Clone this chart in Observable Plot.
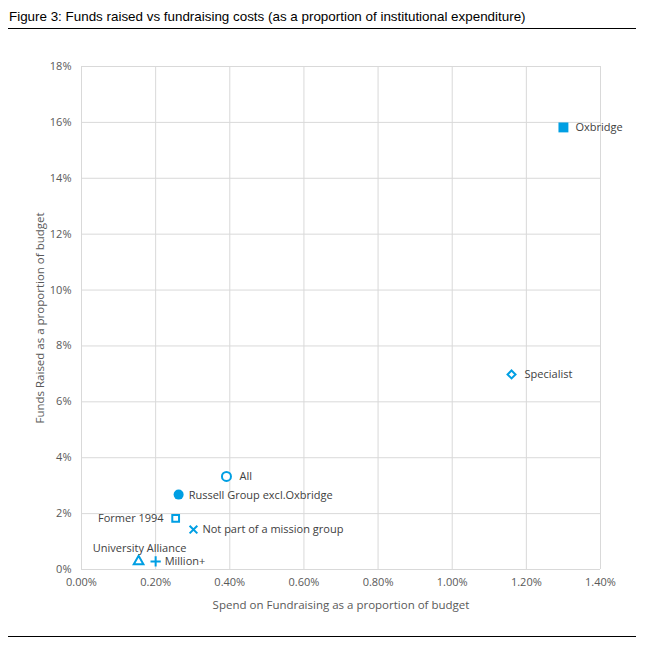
<!DOCTYPE html>
<html>
<head>
<meta charset="utf-8">
<script src="https://cdn.jsdelivr.net/npm/d3@7"></script>
<script src="https://cdn.jsdelivr.net/npm/@observablehq/plot@0.6"></script>
<style>
  html, body { margin: 0; padding: 0; background: #fff; }
  #wrap { position: relative; width: 646px; height: 651px; overflow: hidden; }
  #title { position: absolute; left: 9px; top: 9px; font-family: "Liberation Sans", Arial, sans-serif; font-size: 13.4px; color: #000; white-space: nowrap; }
  .rule { position: absolute; left: 8px; width: 628px; height: 0; border-top: 1px solid #000; }
  #chart { position: absolute; left: 0; top: 0; }
</style>
</head>
<body>
<div id="wrap">
  <div id="chart"></div>
  <div id="title">Figure 3: Funds raised vs fundraising costs (as a proportion of institutional expenditure)</div>
  <div class="rule" style="top:28px"></div>
  <div class="rule" style="top:636px"></div>
</div>
<script>
const groups = ["Oxbridge", "Specialist", "All", "Russell Group excl.Oxbridge", "Former 1994", "Not part of a mission group", "University Alliance", "Million+"];
const spend = [1.30, 1.16, 0.391, 0.262, 0.254, 0.302, 0.154, 0.200];   // % of budget
const raised = [15.82, 6.98, 3.33, 2.68, 1.83, 1.43, 0.29, 0.29];       // % of budget
const symbols = ["square", "diamond2", "circle", "circle", "square2", "times", "triangle2", "plus"];
const filled = [true, false, false, true, false, false, false, false];
const xTicks = [0, 0.2, 0.4, 0.6, 0.8, 1.0, 1.2, 1.4];
const yTicks = [0, 2, 4, 6, 8, 10, 12, 14, 16, 18];

// label placement (styling only)
const labelPos = [
  {dx: 12, dy: 0, anchor: "start"},
  {dx: 13, dy: 0, anchor: "start"},
  {dx: 13, dy: 0, anchor: "start"},
  {dx: 10, dy: 1, anchor: "start"},
  {dx: -12, dy: 0, anchor: "end"},
  {dx: 9, dy: 0, anchor: "start"},
  {dx: 1, dy: -13, anchor: "middle"},
  {dx: 9, dy: 0, anchor: "start"}
];
const sizes = {square: 5.6, diamond2: 3.6, circle: 4.5, square2: 4.3, times: 3.6, triangle2: 4.6, plus: 3.4};

const data = groups.map((g, i) => ({g, x: spend[i], y: raised[i], sym: symbols[i], filled: filled[i], ...labelPos[i]}));
const blue = "#009fe3";

const dotMarks = data.map(d => Plot.dot([d], {
  x: "x", y: "y", symbol: () => d.sym,
  r: d.sym === "circle" && d.filled ? 5 : sizes[d.sym],
  fill: d.filled ? blue : (d.sym === "times" || d.sym === "plus" ? "none" : "white"),
  stroke: d.filled ? "none" : blue,
  strokeWidth: 2
}));
const labelMarks = data.map(d => Plot.text([d], {
  x: "x", y: "y", text: "g", dx: d.dx, dy: d.dy, textAnchor: d.anchor,
  fill: "#404040", fontSize: 11
}));

const plot = Plot.plot({
  width: 646, height: 651,
  marginLeft: 81, marginRight: 46, marginTop: 66, marginBottom: 82,
  style: {fontFamily: "'Open Sans', sans-serif", fontSize: "11px", color: "#595959", background: "transparent"},
  x: {domain: [0, 1.4], ticks: xTicks, tickFormat: d => d.toFixed(2) + "%", tickSize: 0, tickPadding: 8, label: null},
  y: {domain: [0, 18], ticks: yTicks, tickFormat: d => d + "%", tickSize: 0, tickPadding: 10, label: null},
  marks: [
    Plot.gridX(xTicks, {stroke: "#d9d9d9", strokeOpacity: 1, strokeWidth: 1}),
    Plot.gridY(yTicks, {stroke: "#d9d9d9", strokeOpacity: 1, strokeWidth: 1}),
    Plot.axisX({ticks: xTicks, tickFormat: d => d.toFixed(2) + "%", tickSize: 0, tickPadding: 9, label: null, fill: "#595959"}),
    Plot.axisY({ticks: yTicks, tickFormat: d => d + "%", tickSize: 0, tickPadding: 10, label: null, fill: "#595959"}),
    Plot.text(["Spend on Fundraising as a proportion of budget"], {frameAnchor: "bottom", dy: 36, lineAnchor: "middle", textAnchor: "middle", fill: "#595959", fontSize: 11.5}),
    Plot.text(["Funds Raised as a proportion of budget"], {frameAnchor: "left", dx: -41, rotate: -90, textAnchor: "middle", lineAnchor: "middle", fill: "#595959", fontSize: 11.5}),
    ...dotMarks,
    ...labelMarks
  ]
});
document.getElementById("chart").appendChild(plot);
</script>
</body>
</html>
